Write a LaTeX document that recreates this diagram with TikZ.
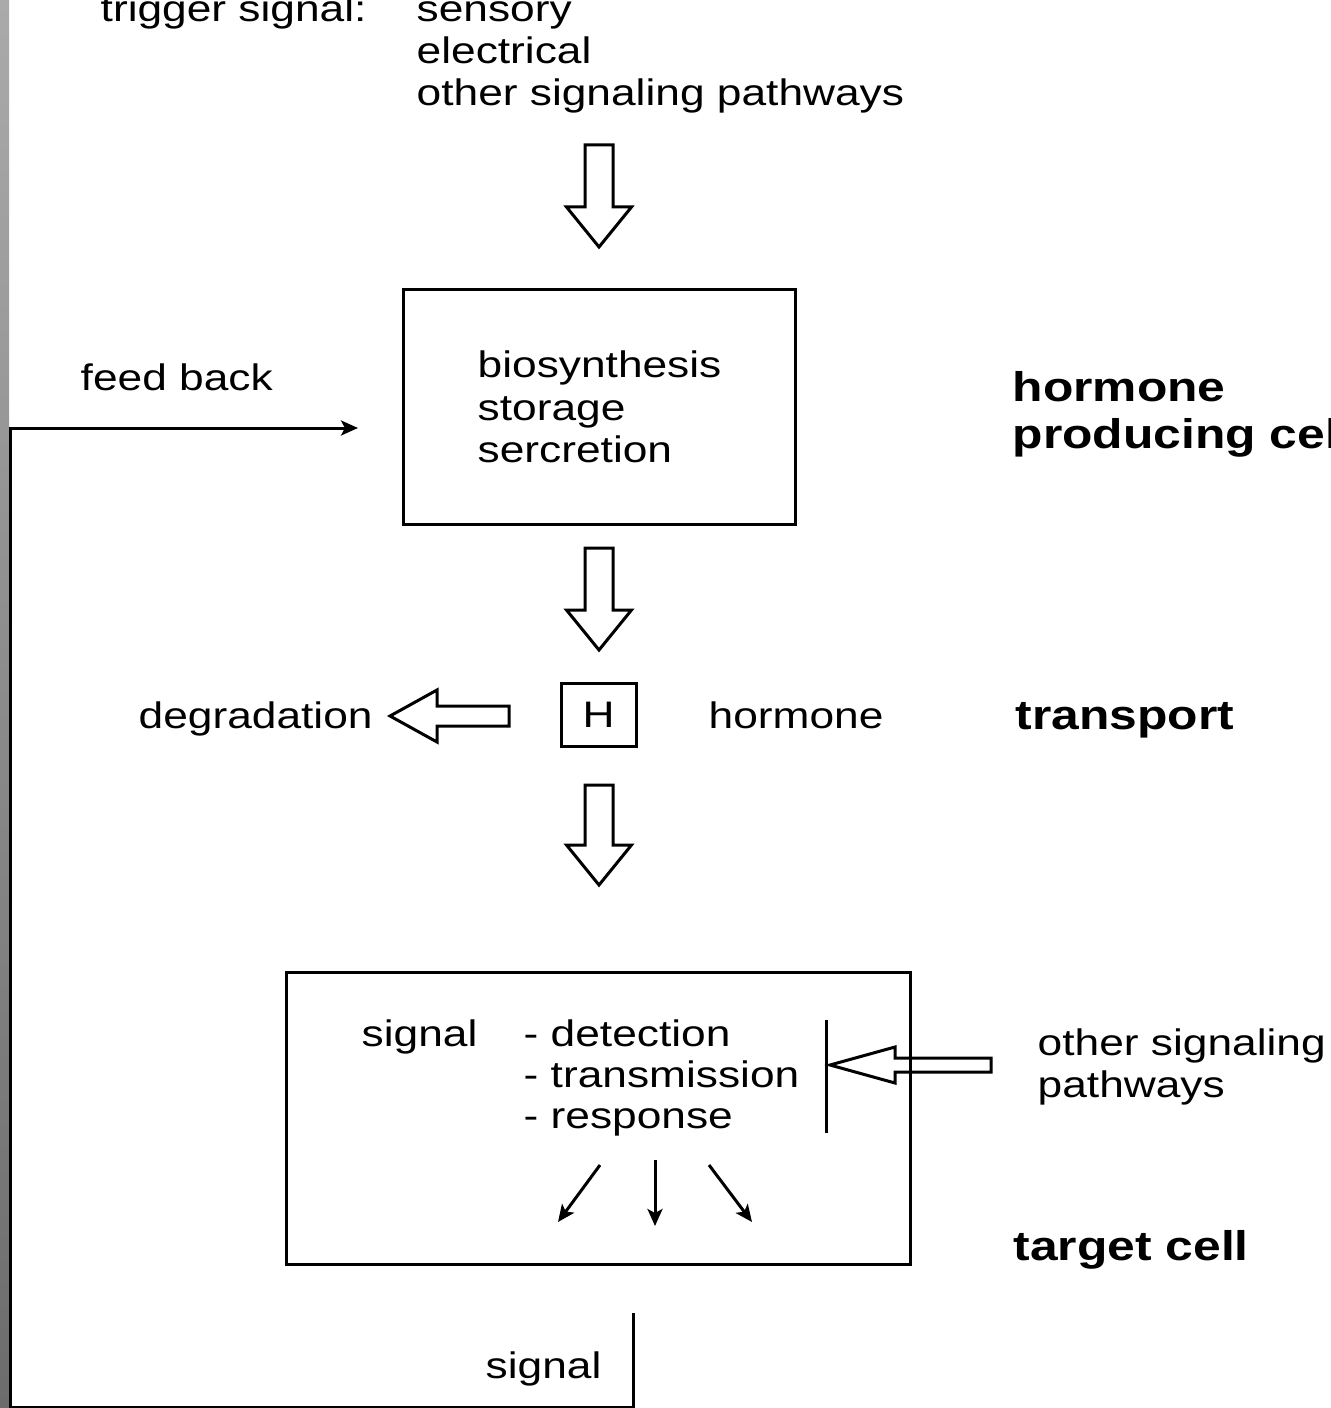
\documentclass[tikz,border=0pt]{standalone}
\usepackage{fontspec}
\setmainfont{Liberation Sans}[FakeStretch=1.2]
\usetikzlibrary{arrows.meta}
\definecolor{bartop}{HTML}{AAAAAA}
\definecolor{barmid}{HTML}{A0A0A0}
\definecolor{barbot}{HTML}{6C6C6C}
\tikzset{
  lbl/.style={anchor=base west, inner sep=0pt, font=\fontsize{10.5}{12}\selectfont},
  hdr/.style={anchor=base west, inner sep=0pt, font=\bfseries\fontsize{11.8}{13}\selectfont},
  frame/.style={draw, line width=0.3mm, inner sep=0pt},
  blk/.style={draw, line width=0.3mm, line join=miter},
  thinarrow/.style={line width=0.3mm, -{Stealth[length=1.7mm,width=1.5mm,inset=0.4mm]}},
}
% hollow block arrow pointing down: x, top y, tip y
\newcommand\hollowdown[3]{%
  \draw[blk] ({#1-14},#2) -- ({#1+14},#2) -- ({#1+14},{#3-40}) -- ({#1+32.5},{#3-40})
    -- (#1,#3) -- ({#1-32.5},{#3-40}) -- ({#1-14},{#3-40}) -- cycle;}
% hollow block arrow pointing left: tail x, tip x, y, shaft half, head half, head length
\newcommand\hollowleft[6]{%
  \draw[blk] (#1,{#3-#4}) -- (#1,{#3+#4}) -- ({#2+#6},{#3+#4}) -- ({#2+#6},{#3+#5})
    -- (#2,#3) -- ({#2+#6},{#3-#5}) -- ({#2+#6},{#3-#4}) -- cycle;}
\begin{document}
\begin{tikzpicture}[x=0.1mm, y=-0.1mm]
\useasboundingbox (0,0) rectangle (1330,1408);
\clip (0,0) rectangle (1330,1408);
\fill[white] (0,0) rectangle (1330,1408);
\shade[top color=bartop, middle color=barmid, bottom color=barbot] (0,0) rectangle (9,1408);

% trigger signals
\node[lbl] (trig) at (100,22) {trigger signal:};
\node[lbl] (sens) at (416,22) {sensory};
\node[lbl] (elec) at (416,64) {electrical};
\node[lbl] (oth)  at (416,106) {other signaling pathways};
\hollowdown{599}{145}{247}

% hormone producing cell
\node[frame, minimum width=39.2mm, minimum height=23.4mm] (prod) at (599,407) {};
\node[lbl] (bio) at (477,378) {biosynthesis};
\node[lbl] (sto) at (477,420) {storage};
\node[lbl] (sec) at (477,462) {sercretion};
\node[hdr] (hpc1) at (1012,402) {hormone};
\node[hdr] (hpc2) at (1012,448) {producing cell};
\node[lbl] (fb) at (80,391) {feed back};
\hollowdown{599}{548}{650}

% transport
\node[frame, minimum width=7.5mm, minimum height=6.3mm, font=\fontsize{10.5}{12}\selectfont] (H) at (598.5,714.5) {H};
\node[lbl] (deg) at (138,728) {degradation};
\node[lbl] (horm) at (708,728) {hormone};
\node[hdr] (trans) at (1015,729) {transport};
\hollowleft{509}{390}{716}{10}{26}{47}
\hollowdown{599}{785}{885}

% target cell
\node[frame, minimum width=62.4mm, minimum height=29.2mm] (tgt) at (598,1118) {};
\node[lbl] (sig) at (361,1046) {signal};
\node[lbl] (det) at (523,1046) {- detection};
\node[lbl] (tra) at (523,1087) {- transmission};
\node[lbl] (res) at (523,1128) {- response};
\coordinate (bartopc) at (826,1020);
\coordinate (barbotc) at (826,1133);
\draw[line width=0.3mm] (bartopc) -- (barbotc);
\hollowleft{991}{830}{1065}{7}{18}{65}
\node[lbl] (osp1) at (1037,1055) {other signaling};
\node[lbl] (osp2) at (1037,1097) {pathways};
\node[hdr] (tc) at (1013,1260) {target cell};

% responses
\coordinate (r1a) at (600,1165); \coordinate (r1b) at (558,1222);
\coordinate (r2a) at (655,1160); \coordinate (r2b) at (655,1226);
\coordinate (r3a) at (709,1165); \coordinate (r3b) at (752,1222);
\draw[thinarrow] (r1a) -- (r1b);
\draw[thinarrow] (r2a) -- (r2b);
\draw[thinarrow] (r3a) -- (r3b);

% outgoing signal and feedback loop
\node[lbl] (sigout) at (485,1378) {signal};
\coordinate (s0) at (633,1313);
\coordinate (s1) at (633,1407);
\coordinate (s2) at (10,1407);
\coordinate (s3) at (10,428);
\coordinate (s4) at (358,428);
\draw[line width=0.3mm, line join=miter, -{Stealth[length=1.7mm,width=1.5mm,inset=0.4mm]}]
  (s0) -- (s1) -- (s2) -- (s3) -- (s4);
\end{tikzpicture}
\end{document}
